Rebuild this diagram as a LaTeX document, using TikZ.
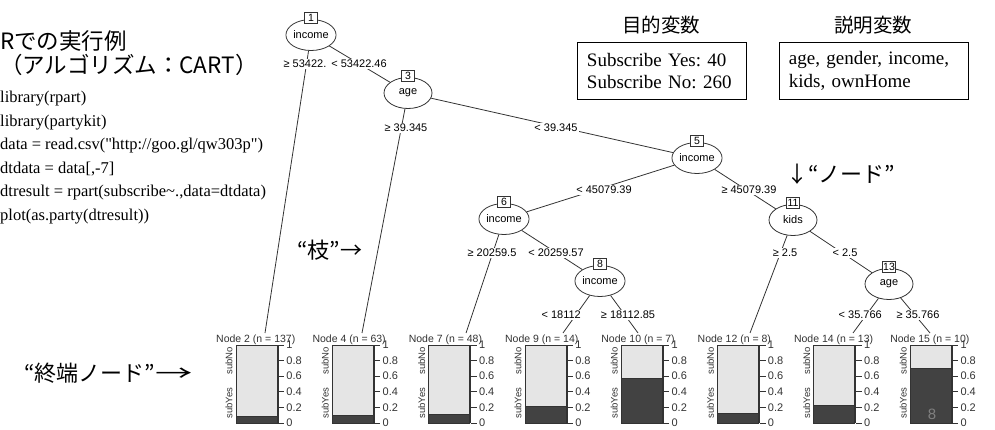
\documentclass[tikz,border=0pt]{standalone}
\usepackage{fontspec}
\setmainfont{Liberation Serif}
\setsansfont{Liberation Sans}
\newfontfamily\jpfont{Noto Sans CJK JP}
\usepackage{tikz}
\usetikzlibrary{shapes.geometric}

\definecolor{barlight}{gray}{0.9}
\definecolor{bardark}{gray}{0.26}
\definecolor{treeline}{gray}{0.2}

\tikzset{
  split/.style={ellipse, draw=treeline, line width=0.8pt, minimum width=48pt, minimum height=31pt, inner sep=0pt, font=\sffamily\fontsize{11}{11}\selectfont},
  numbox/.style={draw=treeline, line width=0.8pt, fill=white, inner sep=1pt, minimum width=13pt, minimum height=11pt, font=\sffamily\fontsize{10.5}{10.5}\selectfont},
  cutlabel/.style={fill=white, inner sep=1pt, font=\sffamily\fontsize{11}{11}\selectfont},
  branch/.style={draw=treeline, line width=0.8pt},
  jptext/.style={inner sep=0pt, font=\jpfont\fontsize{22}{22}\selectfont},
  code/.style={anchor=base west, inner sep=0pt, font=\fontsize{16.5}{16.5}\selectfont},
  infobox/.style={draw, line width=0.9pt, anchor=north west, text width=#1, align=left, inner xsep=9.5pt, minimum height=57pt, font=\fontsize{19}{22.3}\selectfont},
  ticklabel/.style={anchor=west, inner sep=0pt, text=treeline, font=\sffamily\fontsize{11}{11}\selectfont},
  axislabel/.style={rotate=90, inner sep=0pt, text=treeline, font=\sffamily\fontsize{9.5}{9.5}\selectfont},
}

\begin{document}
\frenchspacing
\begin{tikzpicture}[x=1pt, y=-1pt]
\useasboundingbox (0,0) rectangle (995,430);

\node [jptext, anchor=base west, font=\jpfont\fontsize{22.5}{22.5}\selectfont] (title) at (0,49.5) {Rでの実行例};
\node [jptext, anchor=base west, font=\jpfont\fontsize{22.5}{22.5}\selectfont] (algo) at (0,73.5) {（アルゴリズム：CART）};
\node [code] (c1) at (0,102.5) {library(rpart)};
\node [code] (c2) at (0,126.1) {library(partykit)};
\node [code] (c3) at (0,149.7) {data = read.csv(\textquotedbl http://goo.gl/qw303p\textquotedbl)};
\node [code] (c4) at (0,173.3) {dtdata = data[,-7]};
\node [code] (c5) at (0,196.9) {dtresult = rpart(subscribe\textasciitilde.,data=dtdata)};
\node [code] (c6) at (0,220.5) {plot(as.party(dtresult))};

\node [jptext, font=\jpfont\fontsize{19.5}{19.5}\selectfont] (goal) at (661,25) {目的変数};
\node [jptext, font=\jpfont\fontsize{19.5}{19.5}\selectfont] (expl) at (873,25) {説明変数};
\node [infobox=150pt] (ybox) at (577,42) {Subscribe Yes: 40\\Subscribe No: 260};
\node [infobox=170pt] (xbox) at (779,42) {age, gender, income,\\kids, ownHome};

\node [split] (n1) at (311,35) {income};
\node [split] (n3) at (408,93) {age};
\node [split] (n5) at (697,158) {income};
\node [split] (n6) at (504,219) {income};
\node [split] (n8) at (600,281) {income};
\node [split] (n11) at (793,220) {kids};
\node [split] (n13) at (889,284) {age};
\node [numbox] (b1) at ([yshift=1pt]n1.north) {1};
\node [numbox] (b3) at ([yshift=1pt]n3.north) {3};
\node [numbox] (b5) at ([yshift=1pt]n5.north) {5};
\node [numbox] (b6) at ([yshift=1pt]n6.north) {6};
\node [numbox] (b8) at ([yshift=1pt]n8.north) {8};
\node [numbox] (b11) at ([yshift=1pt]n11.north) {11};
\node [numbox] (b13) at ([yshift=1pt]n13.north) {13};

\coordinate (t2) at (265,333);
\coordinate (t4) at (362,333);
\coordinate (t7) at (466,333);
\coordinate (t9) at (563,333);
\coordinate (t10) at (638,333);
\coordinate (t12) at (750,333);
\coordinate (t14) at (853,333);
\coordinate (t15) at (930,333);

\draw [branch] (n1) -- (t2);
\draw [branch] (n1) -- (n3);
\draw [branch] (n3) -- (t4);
\draw [branch] (n3) -- (n5);
\draw [branch] (n5) -- (n6);
\draw [branch] (n5) -- (n11);
\draw [branch] (n6) -- (t7);
\draw [branch] (n6) -- (n8);
\draw [branch] (n8) -- (t9);
\draw [branch] (n8) -- (t10);
\draw [branch] (n11) -- (t12);
\draw [branch] (n11) -- (n13);
\draw [branch] (n13) -- (t14);
\draw [branch] (n13) -- (t15);

\node [cutlabel] (e2) at (305,64) {≥ 53422.};
\node [cutlabel] (e3) at (359,64) {< 53422.46};
\node [cutlabel] (e4) at (406,128) {≥ 39.345};
\node [cutlabel] (e5) at (556,128) {< 39.345};
\node [cutlabel] (e6) at (604,190) {< 45079.39};
\node [cutlabel] (e11) at (749,190) {≥ 45079.39};
\node [cutlabel] (e7) at (492,253) {≥ 20259.5};
\node [cutlabel] (e8) at (556,253) {< 20259.57};
\node [cutlabel, anchor=east] (e9) at (582,315) {< 18112};
\node [cutlabel] (e10) at (628,315) {≥ 18112.85};
\node [cutlabel] (e12) at (785,253) {≥ 2.5};
\node [cutlabel] (e13) at (845,253) {< 2.5};
\node [cutlabel, anchor=east] (e14) at (883,315) {< 35.766};
\node [cutlabel] (e15) at (918,315) {≥ 35.766};

\node [jptext, anchor=west] (branchnote) at (297,250) {“枝”→};
\node [jptext, anchor=west] (nodenote) at (786,174) {↓“ノード”};
\node [jptext, anchor=west] (leafnote) at (24,373) {“終端ノード”\scalebox{1.7}[1]{→}};

\foreach \id/\cnt/\f [count=\k from 0] in {2/137/0.080, 4/63/0.095, 7/48/0.104, 9/14/0.214, 10/7/0.571, 12/8/0.125, 14/13/0.231, 15/10/0.700} {
  \pgfmathsetmacro{\L}{236+96.3*\k}
  \pgfmathsetmacro{\R}{\L+41}
  \pgfmathsetmacro{\D}{423-78*\f}
  \fill [barlight] (\L,345) rectangle (\R,\D);
  \fill [bardark] (\L,\D) rectangle (\R,423);
  \draw [treeline, line width=0.8pt] (\L,345) rectangle (\R,423) (\L,\D) -- (\R,\D);
  \draw [treeline, line width=0.8pt] (\R+1,345) -- (\R+1,423);
  \node [anchor=base west, inner sep=0pt, text=treeline, font=\sffamily\fontsize{10.5}{10.5}\selectfont] (ttl\id) at (\L-20,342) {Node \id{} (n = \cnt)};
  \node [axislabel] (no\id) at (\L-7,361) {subNo};
  \node [axislabel] (yes\id) at (\L-7,403) {subYes};
  \foreach \t/\lab [count=\j] in {0/0,0.2/0.2,0.4/0.4,0.6/0.6,0.8/0.8,1/1}
    \draw [treeline, line width=0.8pt] (\R+1,423-78*\t) -- ++(6,0) node [ticklabel, xshift=2pt] (tk\id-\j) {\lab};
}

\node [text=gray, font=\sffamily\fontsize{15}{15}\selectfont] (pagenum) at (932,414) {8};
\end{tikzpicture}
\end{document}
